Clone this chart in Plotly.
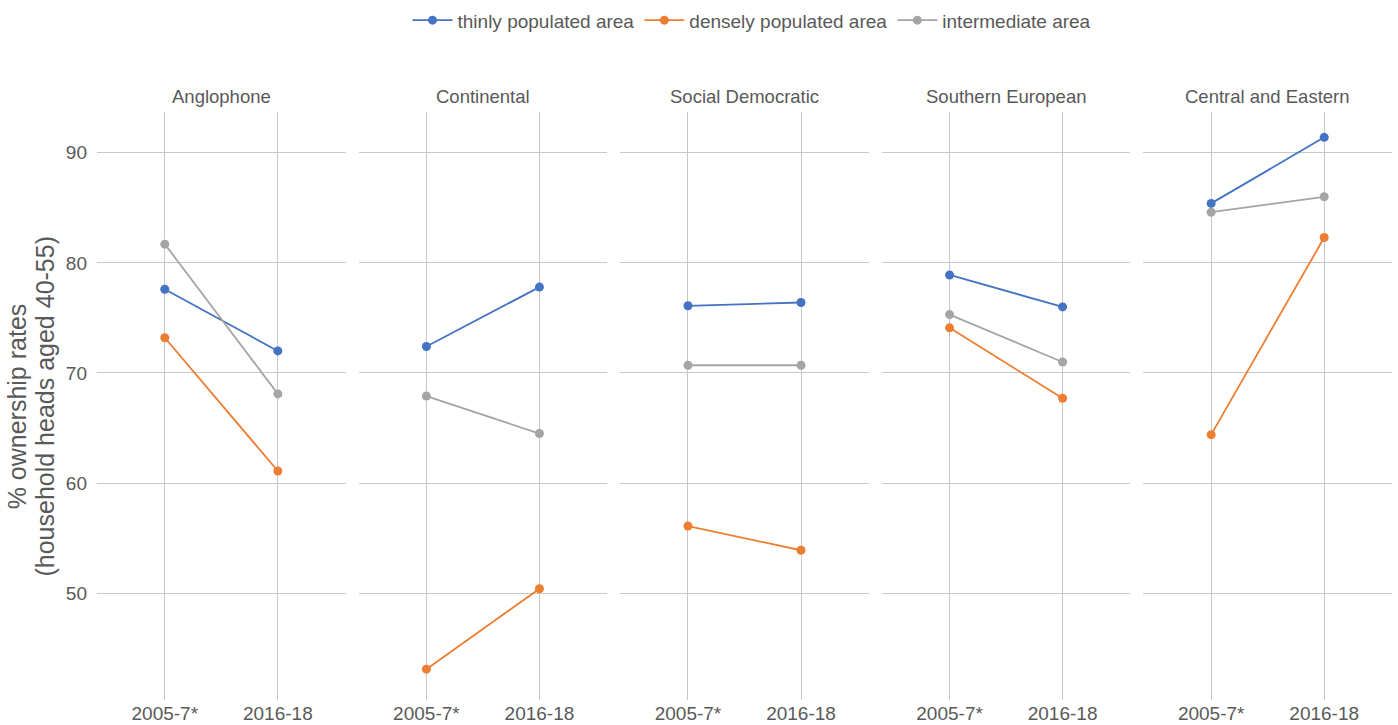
import plotly.graph_objects as go
from plotly.subplots import make_subplots

# facets and periods
regimes = ['Anglophone', 'Continental', 'Social Democratic',
           'Southern European', 'Central and Eastern']
periods = ['2005-7*', '2016-18']

# ownership rates, one pair (2005-7*, 2016-18) per regime
thinly = [[77.6, 72.0], [72.4, 77.8], [76.1, 76.4], [78.9, 76.0], [85.4, 91.4]]
densely = [[73.2, 61.1], [43.1, 50.4], [56.1, 53.9], [74.1, 67.7], [64.4, 82.3]]
intermediate = [[81.7, 68.1], [67.9, 64.5], [70.7, 70.7], [75.3, 71.0], [84.6, 86.0]]

y_title = ['% ownership rates', '(household heads aged 40-55)']

series = [
    ('thinly populated area', thinly, '#4472C4'),
    ('densely populated area', densely, '#ED7D31'),
    ('intermediate area', intermediate, '#A5A5A5'),
]

text_color = '#595959'
grid_color = '#C8C8C8'

fig = make_subplots(rows=1, cols=5, shared_yaxes=True,
                    horizontal_spacing=0.01, subplot_titles=regimes)

for name, values, color in series:
    for i, pair in enumerate(values):
        fig.add_trace(go.Scatter(
            x=periods,
            y=pair,
            mode='lines+markers',
            line=dict(color=color, width=1.8),
            marker=dict(color=color, size=9),
            name=name,
            legendgroup=name,
            showlegend=(i == 0)
        ), row=1, col=i + 1)

fig.update_xaxes(
    range=[-0.6, 1.6],
    showgrid=True, gridcolor=grid_color, gridwidth=1,
    showline=False, zeroline=False, ticks='',
    tickfont=dict(size=19, color=text_color)
)
fig.update_yaxes(
    range=[40.3, 93.7],
    tickvals=[50, 60, 70, 80, 90],
    showgrid=True, gridcolor=grid_color, gridwidth=1,
    showline=False, zeroline=False, ticks='',
    ticklabelstandoff=9,
    tickfont=dict(size=19, color=text_color)
)

for ann in fig.layout.annotations:
    ann.font = dict(size=18.5, color=text_color)
    ann.yshift = 3

# y axis title as two rotated lines (tighter line spacing than <br>)
for text, xpos in zip(y_title, [-0.0615, -0.0405]):
    fig.add_annotation(
        text=text, textangle=-90,
        xref='paper', yref='paper', x=xpos, y=0.5,
        xanchor='center', yanchor='middle', showarrow=False,
        font=dict(size=25, color=text_color)
    )

fig.update_layout(
    width=1398,
    height=725,
    margin=dict(l=97, r=6, t=112, b=25, autoexpand=False),
    paper_bgcolor='white',
    plot_bgcolor='white',
    font=dict(family='Liberation Sans, Arial, sans-serif', color=text_color),
    legend=dict(
        orientation='h',
        x=0.5058, xanchor='center',
        y=0.972, yanchor='middle', yref='container',
        font=dict(size=19, color=text_color),
        itemwidth=40
    )
)

fig.write_html('out.html', config={'displayModeBar': False},
               post_script="document.body.style.margin='0';")
